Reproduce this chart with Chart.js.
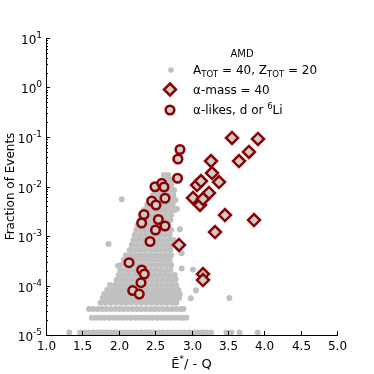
<!DOCTYPE html>
<html>
<head>
<meta charset="utf-8">
<script src="https://cdn.jsdelivr.net/npm/chart.js@4.4.1/dist/chart.umd.min.js"></script>
<style>
html, body { margin: 0; padding: 0; background: #fff; }
canvas { display: block; }
</style>
</head>
<body>
<canvas id="chart" width="374" height="374"></canvas>
<script>
// ---- data ----
// gray cloud (A_TOT = 40, Z_TOT = 20): one fraction level per row, x values of the dots on that row
var grayLevels = [0.036, 0.0171, 0.0135, 0.0107, 0.0085, 0.00673, 0.00533, 0.00423, 0.00335, 0.00265,
    0.0021, 0.00167, 0.00132, 0.00105, 0.00083, 0.00066, 0.00052, 0.00041, 0.00033, 0.00026,
    0.000206, 0.000163, 0.000129, 0.000102, 8.1e-5, 6.72e-5, 5.6e-5, 4.48e-5, 3.36e-5, 2.24e-5, 1.12e-5];
var grayRowsX = [
    [2.77],
    [2.62, 2.68],
    [2.66, 2.72],
    [2.52, 2.58, 2.65, 2.72],
    [2.50, 2.57, 2.64, 2.70, 2.76],
    [2.47, 2.54, 2.61, 2.68, 2.75],
    [2.43, 2.50, 2.57, 2.64, 2.71, 2.78],
    [2.39, 2.46, 2.53, 2.60, 2.67, 2.74],
    [2.35, 2.42, 2.49, 2.56, 2.63, 2.70, 2.77],
    [2.30, 2.37, 2.44, 2.51, 2.58, 2.65, 2.72],
    [2.29, 2.36, 2.43, 2.50, 2.57, 2.64, 2.71],
    [2.26, 2.33, 2.40, 2.47, 2.54, 2.61, 2.68],
    [2.24, 2.31, 2.38, 2.45, 2.52, 2.59, 2.66, 2.72],
    [2.22, 2.29, 2.36, 2.43, 2.50, 2.57, 2.64, 2.70],
    [2.20, 2.27, 2.34, 2.41, 2.48, 2.55, 2.62, 2.69, 2.75],
    [2.18, 2.25, 2.32, 2.39, 2.46, 2.53, 2.60, 2.67, 2.73],
    [2.15, 2.22, 2.29, 2.36, 2.43, 2.50, 2.57, 2.64, 2.71],
    [2.10, 2.17, 2.24, 2.31, 2.38, 2.45, 2.52, 2.59, 2.66, 2.72],
    [2.07, 2.14, 2.21, 2.28, 2.35, 2.42, 2.49, 2.56, 2.63, 2.70],
    [2.03, 2.10, 2.17, 2.24, 2.31, 2.38, 2.45, 2.52, 2.59, 2.66, 2.72],
    [2.02, 2.09, 2.16, 2.23, 2.30, 2.37, 2.44, 2.51, 2.58, 2.65, 2.71],
    [2.00, 2.07, 2.14, 2.21, 2.28, 2.35, 2.42, 2.49, 2.56, 2.63, 2.70, 2.77],
    [1.97, 2.04, 2.11, 2.18, 2.25, 2.32, 2.39, 2.46, 2.53, 2.60, 2.67, 2.74],
    [1.88, 1.95, 2.02, 2.09, 2.16, 2.23, 2.30, 2.37, 2.44, 2.51, 2.58, 2.65, 2.72, 2.79],
    [1.84, 1.91, 1.98, 2.05, 2.12, 2.19, 2.26, 2.33, 2.40, 2.47, 2.54, 2.61, 2.68, 2.75, 2.82],
    [1.80, 1.87, 1.94, 2.01, 2.08, 2.15, 2.22, 2.29, 2.36, 2.43, 2.50, 2.57, 2.64, 2.71, 2.78, 2.84],
    [1.78, 1.85, 1.92, 1.99, 2.06, 2.13, 2.20, 2.27, 2.34, 2.41, 2.48, 2.55, 2.62, 2.69, 2.76, 2.83],
    [1.75, 1.82, 1.89, 1.96, 2.03, 2.10, 2.17, 2.24, 2.31, 2.38, 2.45, 2.52, 2.59, 2.66, 2.73, 2.79],
    [1.59, 1.65, 1.71, 1.77, 1.83, 1.89, 1.95, 2.01, 2.07, 2.13, 2.19, 2.25, 2.31, 2.37, 2.43, 2.49,
     2.55, 2.61, 2.67, 2.73, 2.79, 2.85, 2.89],
    [1.63, 1.69, 1.75, 1.81, 1.87, 1.93, 1.99, 2.05, 2.11, 2.17, 2.23, 2.29, 2.35, 2.41, 2.47, 2.53,
     2.59, 2.65, 2.71, 2.77, 2.83, 2.88, 2.93],
    [1.32, 1.47, 1.53, 1.59, 1.65, 1.71, 1.77, 1.83, 1.89, 1.95, 2.01, 2.07, 2.13, 2.19, 2.25, 2.31,
     2.37, 2.43, 2.49, 2.55, 2.61, 2.67, 2.73, 2.79, 2.85, 2.91, 2.97, 3.03, 3.09, 3.15, 3.21, 3.27,
     3.48, 3.55, 3.66, 3.91]
];
// stray gray dots off the main cloud
var grayOddX = [2.04, 1.86, 1.99, 2.78, 3.02, 3.06, 2.99, 3.52, 2.865, 2.865, 2.80, 2.745, 2.84];
var grayOddY = [0.0055, 0.00069, 0.00025, 0.000133, 0.00021, 7.9e-5, 5.5e-5, 5.6e-5, 0.00045, 0.00022, 0.0035, 0.0049, 0.00137];

// alpha-mass = 40 (diamonds)
var massX = [3.557, 3.914, 3.790, 3.653, 3.268, 3.282, 3.378, 3.076, 3.131, 3.021, 3.117, 3.240, 3.460, 3.859, 3.323, 2.828, 3.158, 3.158, 3.158];
var massY = [0.0955, 0.0912, 0.0498, 0.0327, 0.0327, 0.0187, 0.0123, 0.0107, 0.0129, 0.00586, 0.00423, 0.0074, 0.00265, 0.0021, 0.0012, 0.00066, 0.00017, 0.000129, 0.0056];

// alpha-likes, d or 6Li (circles)
var likeX = [2.842, 2.814, 2.808, 2.498, 2.590, 2.622, 2.636, 2.453, 2.512, 2.347, 2.315, 2.544, 2.636, 2.505, 2.430, 2.141, 2.315, 2.351, 2.306, 2.192, 2.282];
var likeY = [0.0558, 0.036, 0.01466, 0.0099, 0.0116, 0.00977, 0.00578, 0.0051, 0.00423, 0.00272, 0.00183, 0.00215, 0.00159, 0.00132, 0.000774, 0.000289, 0.000206, 0.000171, 0.000114, 7.9e-5, 6.7e-5];

var xTicks = [1.0, 1.5, 2.0, 2.5, 3.0, 3.5, 4.0, 4.5, 5.0];
var yExps = [-5, -4, -3, -2, -1, 0, 1];

var RED = '#8b0000';
var GRAY = '#c0c0c0';
var FONT = '"DejaVu Sans", sans-serif';

function zip(xs, ys) {
    return xs.map(function (x, i) { return {x: x, y: ys[i]}; });
}

var grayPts = [];
grayLevels.forEach(function (lv, r) {
    grayRowsX[r].forEach(function (x) { grayPts.push({x: x, y: lv}); });
});
grayPts = grayPts.concat(zip(grayOddX, grayOddY));

// text pieces: [text, size, shift]
function rich(ctx, parts, x, y, align) {
    var w = 0;
    parts.forEach(function (p) {
        ctx.font = p[1] + 'px ' + FONT;
        w += ctx.measureText(p[0]).width;
    });
    var cx = align === 'right' ? x - w : (align === 'center' ? x - w / 2 : x);
    parts.forEach(function (p) {
        ctx.font = p[1] + 'px ' + FONT;
        ctx.fillText(p[0], cx, y + p[2]);
        cx += ctx.measureText(p[0]).width;
    });
}

function diamond(ctx, x, y, r) {
    ctx.beginPath();
    ctx.moveTo(x, y - r); ctx.lineTo(x + r, y); ctx.lineTo(x, y + r); ctx.lineTo(x - r, y);
    ctx.closePath();
    ctx.fillStyle = '#cccccc'; ctx.fill();
    ctx.lineWidth = 2.5; ctx.strokeStyle = RED; ctx.stroke();
}

function ring(ctx, x, y, r) {
    ctx.beginPath();
    ctx.arc(x, y, r, 0, Math.PI * 2);
    ctx.fillStyle = '#cccccc'; ctx.fill();
    ctx.lineWidth = 2.5; ctx.strokeStyle = RED; ctx.stroke();
}

var decor = {
    id: 'decor',
    afterDraw: function (chart) {
        var ctx = chart.ctx, xs = chart.scales.x, ys = chart.scales.y, a = chart.chartArea;
        ctx.save();
        ctx.strokeStyle = '#000';
        ctx.lineWidth = 1;
        ctx.fillStyle = '#000';
        ctx.textBaseline = 'alphabetic';

        // inward ticks, x
        xTicks.forEach(function (t) {
            var px = Math.round(xs.getPixelForValue(t)) + 0.5;
            ctx.beginPath(); ctx.moveTo(px, a.bottom); ctx.lineTo(px, a.bottom - 4); ctx.stroke();
            rich(ctx, [[t.toFixed(1), 12, 0]], px, a.bottom + 15, 'center');
        });
        // inward ticks, y (major + minor)
        yExps.forEach(function (e) {
            var py = Math.round(ys.getPixelForValue(Math.pow(10, e))) + 0.5;
            ctx.beginPath(); ctx.moveTo(a.left, py); ctx.lineTo(a.left + 4, py); ctx.stroke();
            rich(ctx, [['10', 12, 0], [String(e), 9, -6]], a.left - 4, py + 5, 'right');
            if (e < 1) {
                for (var m = 2; m <= 9; m++) {
                    var pm = Math.round(ys.getPixelForValue(m * Math.pow(10, e))) + 0.5;
                    ctx.beginPath(); ctx.moveTo(a.left, pm); ctx.lineTo(a.left + 2, pm); ctx.stroke();
                }
            }
        });

        // axis titles
        rich(ctx, [['\u0112', 13, 0], ['*', 9, -6], ['/ - Q', 13, 0]], (a.left + a.right) / 2, 368, 'center');
        ctx.save();
        ctx.translate(14, (a.top + a.bottom) / 2);
        ctx.rotate(-Math.PI / 2);
        rich(ctx, [['Fraction of Events', 12, 0]], 0, 0, 'center');
        ctx.restore();

        // legend
        rich(ctx, [['AMD', 10, 0]], 242, 57, 'center');
        ctx.beginPath(); ctx.arc(171, 70, 2.8, 0, Math.PI * 2); ctx.fillStyle = GRAY; ctx.fill();
        ctx.fillStyle = '#000';
        rich(ctx, [['A', 12, 0], ['TOT', 8.5, 3], [' = 40, Z', 12, 0], ['TOT', 8.5, 3], [' = 20', 12, 0]], 193, 74, 'left');
        diamond(ctx, 170, 89.5, 6);
        ctx.fillStyle = '#000';
        rich(ctx, [['\u03b1-mass = 40', 12, 0]], 193, 93.5, 'left');
        ring(ctx, 170, 110, 4.3);
        ctx.fillStyle = '#000';
        rich(ctx, [['\u03b1-likes, d or ', 12, 0], ['6', 8.5, -5], ['Li', 12, 0]], 193, 114, 'left');
        ctx.restore();
    }
};

new Chart(document.getElementById('chart'), {
    type: 'scatter',
    data: {
        datasets: [
            {
                label: 'alpha-likes',
                data: zip(likeX, likeY),
                pointStyle: 'circle',
                pointRadius: 4.3,
                borderWidth: 2.5,
                borderColor: RED,
                backgroundColor: '#cccccc'
            },
            {
                label: 'alpha-mass',
                data: zip(massX, massY),
                pointStyle: 'rectRot',
                pointRadius: 6,
                borderWidth: 2.5,
                borderColor: RED,
                backgroundColor: '#cccccc'
            },
            {
                label: 'gray',
                data: grayPts,
                pointRadius: 3,
                borderWidth: 0,
                backgroundColor: GRAY
            }
        ]
    },
    options: {
        responsive: false,
        animation: false,
        events: [],
        layout: {padding: {top: 38, right: 37, left: 0, bottom: 0}},
        plugins: {legend: {display: false}, tooltip: {enabled: false}},
        scales: {
            x: {
                type: 'linear', min: 1, max: 5,
                ticks: {display: false},
                grid: {display: false},
                border: {color: '#000', width: 1},
                afterFit: function (s) { s.height = 39; }
            },
            y: {
                type: 'logarithmic', min: 1e-5, max: 10,
                ticks: {display: false},
                grid: {display: false},
                border: {color: '#000', width: 1},
                afterFit: function (s) { s.width = 46; }
            }
        }
    },
    plugins: [decor]
});
</script>
</body>
</html>
